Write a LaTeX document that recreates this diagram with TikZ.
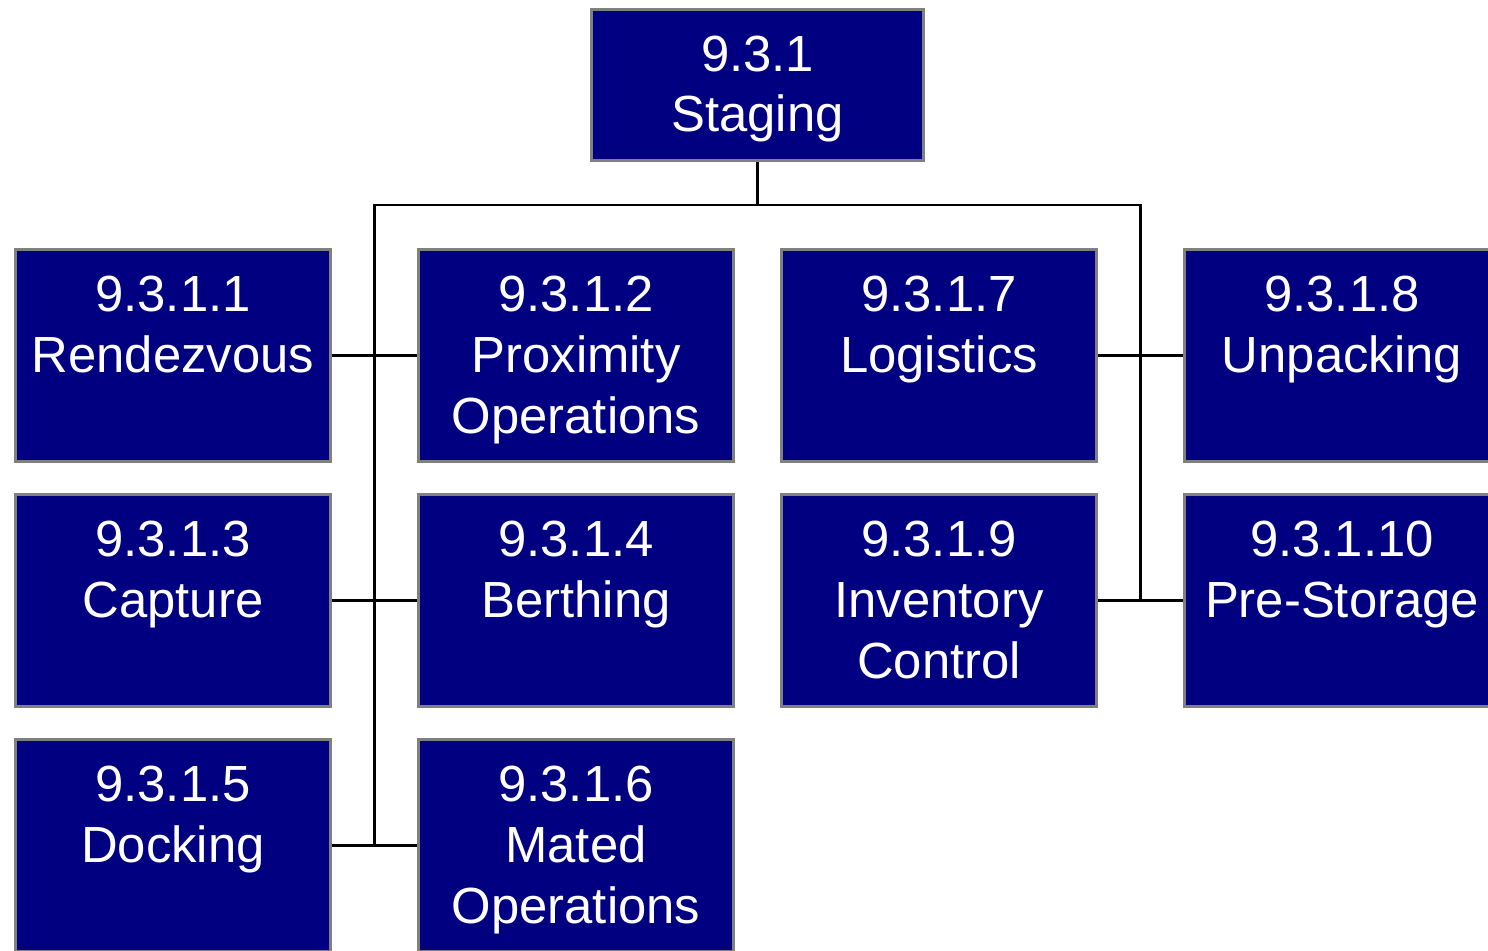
\documentclass[tikz,border=0pt]{standalone}
\usepackage{fontspec}
\setmainfont{Liberation Sans}
\usetikzlibrary{positioning, calc}
\definecolor{wbsnavy}{RGB}{0,0,128}
\definecolor{wbsgray}{RGB}{128,128,128}

\begin{document}
\begin{tikzpicture}[x=1bp, y=-1bp,
  wbs/.style={draw=wbsgray, fill=wbsnavy, line width=3bp, inner sep=0pt,
              text=white, align=center, text width=315bp,
              text height=62bp, text depth=150bp,
              font=\fontsize{51}{61}\selectfont},
  root/.style={wbs, text width=332bp, text height=61.5bp, text depth=89.5bp},
  link/.style={line width=2.8bp, black}]

  \useasboundingbox (0,0) rectangle (1488,950);

  \node[root] (stg) at (757.5,85) {9.3.1\\Staging};

  % first column
  \node[wbs] (n1) at (173,355.5) {9.3.1.1\\Rendezvous};
  \node[wbs, below=30bp of n1] (n3) {9.3.1.3\\Capture};
  \node[wbs, below=30bp of n3] (n5) {9.3.1.5\\Docking};
  % second column
  \node[wbs, right=85bp of n1] (n2) {9.3.1.2\\Proximity\\Operations};
  \node[wbs, below=30bp of n2] (n4) {9.3.1.4\\Berthing};
  \node[wbs, below=30bp of n4] (n6) {9.3.1.6\\Mated\\Operations};
  % third and fourth column
  \node[wbs, right=45bp of n2] (n7) {9.3.1.7\\Logistics};
  \node[wbs, below=30bp of n7] (n9) {9.3.1.9\\Inventory\\Control};
  \node[wbs, right=85bp of n7] (n8) {9.3.1.8\\Unpacking};
  \node[wbs, below=30bp of n8] (n10) {9.3.1.10\\Pre-Storage};

  \coordinate (bus) at (0,205);
  \coordinate (midL) at ($(n1.east)!0.5!(n2.west)$);
  \coordinate (midR) at ($(n7.east)!0.5!(n8.west)$);

  \draw[link] (stg.south) -- (stg.south |- bus);
  \draw[link] (midL |- n5.east) -- (midL |- bus) -- (midR |- bus) -- (midR |- n9.east);
  \foreach \a/\b in {n1/n2, n3/n4, n5/n6, n7/n8, n9/n10}
    \draw[link] (\a) -- (\b);
\end{tikzpicture}
\end{document}
